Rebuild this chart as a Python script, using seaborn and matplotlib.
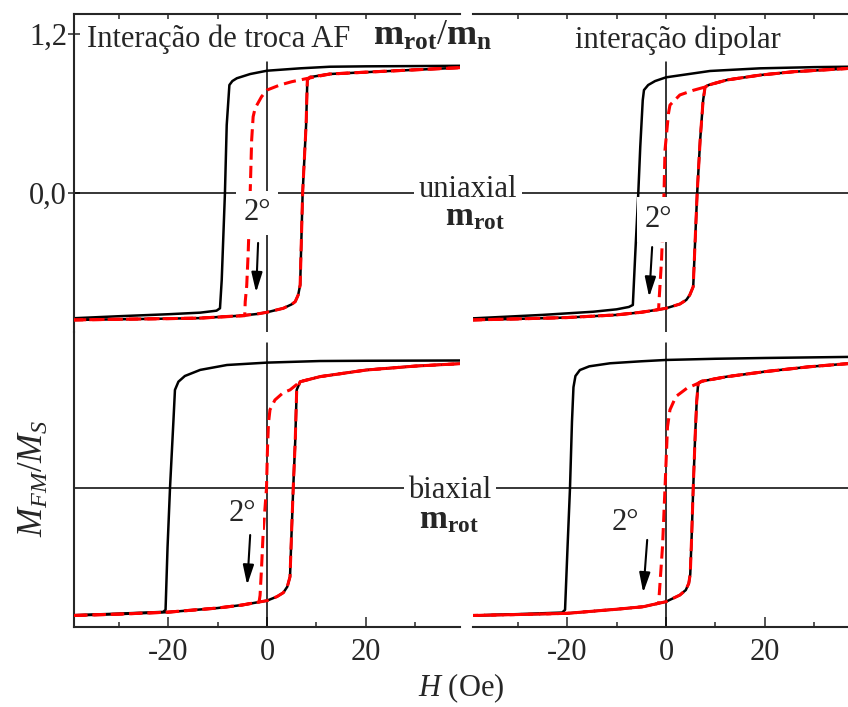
import numpy as np
import pandas as pd
import matplotlib
matplotlib.use("Agg")
import matplotlib.pyplot as plt
import seaborn as sns

# ---------------- data ----------------
# Top-left: exchange AF interaction, uniaxial
tl_desc0_H = [39, 30, 20, 12.7, 6.7, 0, -3.4, -6.1, -7.0, -7.6, -8.14, -8.5, -9.15, -9.5, -10.2, -13.5, -20, -30, -39]
tl_desc0_M = [0.960, 0.958, 0.956, 0.953, 0.941, 0.923, 0.898, 0.866, 0.845, 0.815, 0.513, 0.000, -0.657, -0.870, -0.888, -0.903, -0.915, -0.930, -0.945]
tl_asc_H = [-39, -30, -20, -13.5, -5, -2, 0, 3.3, 5.0, 5.7, 6.3, 6.7, 7.2, 7.9, 8.15, 8.7, 12.7, 20, 30, 39]
tl_asc_M = [-0.958, -0.953, -0.948, -0.944, -0.925, -0.913, -0.900, -0.870, -0.840, -0.820, -0.770, -0.694, 0.000, 0.513, 0.853, 0.875, 0.898, 0.912, 0.930, 0.946]
tl_desc2_H = [39, 30, 20, 12.7, 8.3, 5.0, 2.6, 0, -1.1, -2.4, -2.8, -3.1, -3.4, -3.8, -4.1, -4.4, -4.5, -10, -13.5, -20, -30, -39]
tl_desc2_M = [0.946, 0.930, 0.912, 0.898, 0.866, 0.840, 0.815, 0.777, 0.727, 0.640, 0.576, 0.400, 0.000, -0.450, -0.700, -0.820, -0.926, -0.937, -0.944, -0.948, -0.953, -0.958]

# Top-right: dipolar interaction, uniaxial
tr_desc0_H = [39, 30, 19, 8.9, 0, -2.2, -3.6, -4.45, -4.7, -5.2, -5.6, -6.2, -6.7, -7.5, -10, -14.7, -25, -39]
tr_desc0_M = [0.954, 0.950, 0.941, 0.921, 0.873, 0.845, 0.815, 0.777, 0.700, 0.350, 0.000, -0.450, -0.845, -0.860, -0.878, -0.896, -0.920, -0.946]
tr_asc_H = [-39, -30, -20, -10, -5, -1.2, 0, 2.8, 4.1, 4.8, 5.5, 5.9, 6.3, 6.9, 7.5, 7.9, 8.6, 12.3, 19, 25.7, 39]
tr_asc_M = [-0.958, -0.950, -0.940, -0.920, -0.900, -0.878, -0.870, -0.838, -0.807, -0.770, -0.707, -0.350, 0.000, 0.400, 0.700, 0.800, 0.815, 0.853, 0.890, 0.915, 0.945]
tr_desc2_H = [39, 25.7, 19, 12.3, 8.6, 7.9, 5.5, 2.8, 0.8, 0.5, -0.2, -0.4, -0.9, -1.35, -1.5, -5, -10, -20, -30, -39]
tr_desc2_M = [0.945, 0.915, 0.890, 0.853, 0.815, 0.800, 0.775, 0.740, 0.664, 0.600, 0.325, 0.000, -0.506, -0.780, -0.880, -0.900, -0.920, -0.940, -0.950, -0.958]

# Bottom-left: exchange AF interaction, biaxial
bl_desc0_H = [39, 20, 10.7, 0, -8.1, -13.5, -16.6, -17.9, -18.6, -18.9, -19.6, -20.1, -20.5, -21, -30, -39]
bl_desc0_M = [0.962, 0.960, 0.958, 0.946, 0.928, 0.891, 0.845, 0.802, 0.740, 0.513, 0.000, -0.450, -0.920, -0.935, -0.948, -0.960]
bl_asc_H = [-39, -30, -20, -10, -5, 0, 2, 3.3, 4.1, 4.65, 5.0, 5.3, 5.7, 6.0, 6.7, 10.7, 20, 30, 39]
bl_asc_M = [-0.962, -0.952, -0.937, -0.906, -0.883, -0.850, -0.820, -0.790, -0.745, -0.670, -0.300, 0.000, 0.350, 0.740, 0.802, 0.840, 0.890, 0.920, 0.938]
bl_desc2_H = [39, 30, 20, 10.7, 6.7, 4.65, 3.3, 1.6, 0.6, 0.3, 0.1, -0.1, -0.4, -0.75, -1.1, -1.4, -1.6, -5, -10, -20, -30, -39]
bl_desc2_M = [0.938, 0.920, 0.890, 0.840, 0.802, 0.740, 0.720, 0.664, 0.590, 0.490, 0.300, 0.000, -0.150, -0.317, -0.600, -0.810, -0.860, -0.883, -0.906, -0.937, -0.952, -0.962]

# Bottom-right: dipolar interaction, biaxial
br_desc0_H = [39, 20, 10, 0, -5, -11.3, -15.5, -17.4, -18.3, -18.7, -19.0, -19.4, -19.9, -20.4, -21, -30, -39]
br_desc0_M = [0.990, 0.981, 0.975, 0.966, 0.956, 0.941, 0.918, 0.890, 0.845, 0.760, 0.500, 0.000, -0.450, -0.920, -0.940, -0.952, -0.962]
br_asc_H = [-39, -30, -20, -10, -4.6, 0, 2.8, 4.0, 4.6, 4.9, 5.2, 5.5, 5.9, 6.2, 6.5, 7.2, 12.3, 20, 29, 39]
br_asc_M = [-0.962, -0.955, -0.946, -0.915, -0.896, -0.858, -0.808, -0.770, -0.720, -0.650, -0.350, 0.000, 0.400, 0.650, 0.790, 0.805, 0.840, 0.878, 0.915, 0.945]
br_desc2_H = [39, 29, 20, 12.3, 7.2, 6.5, 4.2, 2.0, 0.8, 0.3, -0.2, -0.7, -1.35, -1.5, -4.6, -10, -20, -30, -39]
br_desc2_M = [0.945, 0.915, 0.878, 0.840, 0.805, 0.790, 0.752, 0.690, 0.590, 0.460, 0.000, -0.440, -0.795, -0.870, -0.896, -0.915, -0.946, -0.955, -0.962]

x_major = [-20, 0, 20]
x_major_labels = ["-20", "0", "20"]
x_minor = [-30, -10, 10, 30]
x_top = [-30, -20, -10, 0, 10, 20, 30]
y_ticks = [0.0, 1.2]
y_tick_labels = ["0,0", "1,2"]

# ---------------- style ----------------
sns.set_style("ticks")
plt.rcParams["font.family"] = ["Liberation Serif", "DejaVu Serif"]
plt.rcParams["mathtext.fontset"] = "custom"
plt.rcParams["mathtext.rm"] = "Liberation Serif"
plt.rcParams["mathtext.it"] = "Liberation Serif:italic"
plt.rcParams["mathtext.bf"] = "Liberation Serif:bold"
plt.rcParams["axes.linewidth"] = 1.5

FS = 22
W, Hh = 848, 707
fig = plt.figure(figsize=(W / 100, Hh / 100), dpi=100)


def rect(x0, y0, x1, y1):
    return [x0 / W, 1 - y1 / Hh, (x1 - x0) / W, (y1 - y0) / Hh]


ax_tl = fig.add_axes(rect(74, 14, 460, 332))
ax_tr = fig.add_axes(rect(473, 14, 859, 332))
ax_bl = fig.add_axes(rect(74, 332, 460, 627))
ax_br = fig.add_axes(rect(473, 332, 859, 627))

panels = [
    (ax_tl, tl_desc0_H, tl_desc0_M, tl_asc_H, tl_asc_M, tl_desc2_H, tl_desc2_M, True, True),
    (ax_tr, tr_desc0_H, tr_desc0_M, tr_asc_H, tr_asc_M, tr_desc2_H, tr_desc2_M, True, False),
    (ax_bl, bl_desc0_H, bl_desc0_M, bl_asc_H, bl_asc_M, bl_desc2_H, bl_desc2_M, False, True),
    (ax_br, br_desc0_H, br_desc0_M, br_asc_H, br_asc_M, br_desc2_H, br_desc2_M, False, False),
]

for ax, dH, dM, aH, aM, rH, rM, top, left in panels:
    ax.set_xlim(-39, 39)
    if top:
        ax.set_ylim(-1.049, 1.351)
        ax.axvline(0, ymax=0.8496, color="black", lw=1.1, zorder=1)
    else:
        ax.set_ylim(-1.049, 1.177)
        ax.axvline(0, ymax=0.9627, color="black", lw=1.1, zorder=1)
    ax.axhline(0, color="black", lw=1.1, zorder=1)
    sns.lineplot(x=dH, y=dM, sort=False, estimator=None, color="black", lw=1.8, ax=ax, zorder=2)
    sns.lineplot(x=aH, y=aM, sort=False, estimator=None, color="black", lw=1.8, ax=ax, zorder=2)
    sns.lineplot(x=rH, y=rM, sort=False, estimator=None, color="#ff0000", lw=2.2,
                 linestyle=(0, (4, 2)), ax=ax, zorder=3)
    sns.lineplot(x=aH, y=aM, sort=False, estimator=None, color="#ff0000", lw=2.2,
                 linestyle=(0, (4, 2)), ax=ax, zorder=3)
    ax.set_xlabel("")
    ax.set_ylabel("")
    ax.spines["right"].set_visible(False)
    ax.spines["left"].set_visible(left)
    if top:
        ax.spines["bottom"].set_visible(False)
        ax.xaxis.set_ticks_position("top")
        ax.set_xticks(x_top)
        ax.tick_params(axis="x", which="major", direction="in", length=3.5, width=1.1,
                       labeltop=False, labelbottom=False)
    else:
        ax.spines["top"].set_visible(False)
        ax.xaxis.set_ticks_position("bottom")
        ax.set_xticks(x_major)
        ax.set_xticklabels(x_major_labels)
        ax.set_xticks(x_minor, minor=True)
        ax.tick_params(axis="x", which="major", direction="in", length=7.5, width=1.1,
                       labelsize=FS, pad=8)
        ax.tick_params(axis="x", which="minor", direction="in", length=3.5, width=1.1)
    if top and left:
        ax.set_yticks(y_ticks)
        ax.set_yticklabels(y_tick_labels)
        ax.tick_params(axis="y", direction="inout", length=8, width=1.1, labelsize=FS, pad=1)
    else:
        ax.set_yticks([])
    ax.patch.set_alpha(0)

# "2°" labels and arrows
box = dict(boxstyle="square,pad=0.25", fc="white", ec="none")
arrow = dict(arrowstyle="-|>,head_length=0.8,head_width=0.22", lw=1.5, color="black",
             shrinkA=0, shrinkB=0, mutation_scale=15)
ax_tl.text(-2.0, -0.15, "2°", fontsize=FS, ha="center", va="center", bbox=box, zorder=6)
ax_tr.text(-1.6, -0.20, "2°", fontsize=FS, ha="center", va="center", bbox=box, zorder=6)
ax_bl.text(-5.05, -0.19, "2°", fontsize=FS, ha="center", va="center", bbox=box, zorder=6)
ax_br.text(-8.3, -0.26, "2°", fontsize=FS, ha="center", va="center", bbox=box, zorder=6)
ax_tl.annotate("", xy=(-2.2, -0.75), xytext=(-1.8, -0.377), arrowprops=arrow, zorder=6)
ax_tr.annotate("", xy=(-3.4, -0.785), xytext=(-2.8, -0.408), arrowprops=arrow, zorder=6)
ax_bl.annotate("", xy=(-4.0, -0.732), xytext=(-3.4, -0.355), arrowprops=arrow, zorder=6)
ax_br.annotate("", xy=(-4.6, -0.79), xytext=(-3.8, -0.392), arrowprops=arrow, zorder=6)


def fx(px):
    return px / W


def fy(py):
    return 1 - py / Hh


wbox = dict(boxstyle="square,pad=0.15", fc="white", ec="none")
fig.text(fx(87), fy(47), "Interação de troca AF", fontsize=FS, ha="left", va="baseline")
fig.text(fx(373), fy(45), r"$\mathbf{m}_{\mathbf{rot}}/\mathbf{m}_{\mathbf{n}}$", fontsize=26,
         ha="left", va="baseline")
fig.text(fx(575), fy(48), "interação dipolar", fontsize=FS, ha="left", va="baseline")
fig.text(fx(468), fy(197), "uniaxial", fontsize=FS, ha="center", va="baseline", bbox=wbox)
fig.text(fx(475), fy(225), r"$\mathbf{m}_{\mathbf{rot}}$", fontsize=24, ha="center", va="baseline")
fig.text(fx(450), fy(498), "biaxial", fontsize=FS, ha="center", va="baseline", bbox=wbox)
fig.text(fx(449), fy(528), r"$\mathbf{m}_{\mathbf{rot}}$", fontsize=24, ha="center", va="baseline")
fig.text(fx(34), fy(478), r"$M_{FM}/M_S$", fontsize=25, rotation=90, ha="center", va="center")
fig.text(fx(461), fy(688), r"$H$ (Oe)", fontsize=FS, ha="center", va="center")

fig.savefig("out.png", dpi=100)
